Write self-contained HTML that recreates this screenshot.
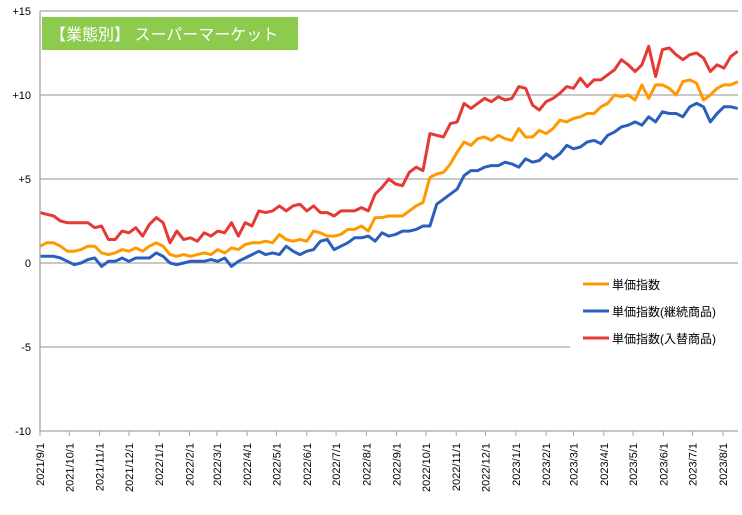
<!DOCTYPE html>
<html><head><meta charset="utf-8"><style>
body{margin:0;background:#fff;}
svg text{font-family:"Liberation Sans","Noto Sans CJK JP",sans-serif;}
</style></head><body>
<svg width="742" height="510" viewBox="0 0 742 510">
<g id="grid"></g><g id="series"></g><g id="axes"></g>
<g>
<rect x="570" y="268" width="168" height="84" fill="#fff"/>
<line x1="583" y1="284" x2="609" y2="284" stroke="#FF9900" stroke-width="3"/>
<text x="612" y="289" font-size="12" fill="#000">単価指数</text>
<line x1="583" y1="311" x2="609" y2="311" stroke="#2B5FBF" stroke-width="3"/>
<text x="612" y="316" font-size="12" fill="#000">単価指数(継続商品)</text>
<line x1="583" y1="338" x2="609" y2="338" stroke="#E53935" stroke-width="3"/>
<text x="612" y="343" font-size="12" fill="#000">単価指数(入替商品)</text>
</g>
<g>
<rect x="42" y="17" width="256" height="33" fill="#8CCB4E"/>
<text x="50" y="40" font-size="16" fill="#fff">【業態別】 スーパーマーケット</text>
</g>
</svg>
<script>
const yTicks=[15,10,5,0,-5,-10];
const yTickLabels=["+15","+10","+5","0","-5","-10"];
const monthLabels=["2021/9/1","2021/10/1","2021/11/1","2021/12/1","2022/1/1","2022/2/1","2022/3/1","2022/4/1","2022/5/1","2022/6/1","2022/7/1","2022/8/1","2022/9/1","2022/10/1","2022/11/1","2022/12/1","2023/1/1","2023/2/1","2023/3/1","2023/4/1","2023/5/1","2023/6/1","2023/7/1","2023/8/1"];
const startDate="2021-09-01";
const unitPrice=[1.0,1.2,1.2,1.0,0.7,0.7,0.8,1.0,1.0,0.6,0.5,0.6,0.8,0.7,0.9,0.7,1.0,1.2,1.0,0.5,0.4,0.5,0.4,0.5,0.6,0.5,0.8,0.6,0.9,0.8,1.1,1.2,1.2,1.3,1.2,1.7,1.4,1.3,1.4,1.3,1.9,1.8,1.6,1.6,1.7,2.0,2.0,2.2,1.9,2.7,2.7,2.8,2.8,2.8,3.1,3.4,3.6,5.1,5.3,5.4,5.9,6.6,7.2,7.0,7.4,7.5,7.3,7.6,7.4,7.3,8.0,7.5,7.5,7.9,7.7,8.0,8.5,8.4,8.6,8.7,8.9,8.9,9.3,9.5,10.0,9.9,10.0,9.7,10.6,9.8,10.6,10.6,10.4,10.0,10.8,10.9,10.7,9.7,10.0,10.4,10.6,10.6,10.8];
const continuing=[0.4,0.4,0.4,0.3,0.1,-0.1,0.0,0.2,0.3,-0.2,0.1,0.1,0.3,0.1,0.3,0.3,0.3,0.6,0.4,0.0,-0.1,0.0,0.1,0.1,0.1,0.2,0.1,0.3,-0.2,0.1,0.3,0.5,0.7,0.5,0.6,0.5,1.0,0.7,0.5,0.7,0.8,1.3,1.4,0.8,1.0,1.2,1.5,1.5,1.6,1.3,1.8,1.6,1.7,1.9,1.9,2.0,2.2,2.2,3.5,3.8,4.1,4.4,5.2,5.5,5.5,5.7,5.8,5.8,6.0,5.9,5.7,6.2,6.0,6.1,6.5,6.2,6.5,7.0,6.8,6.9,7.2,7.3,7.1,7.6,7.8,8.1,8.2,8.4,8.2,8.7,8.4,9.0,8.9,8.9,8.7,9.3,9.5,9.3,8.4,8.9,9.3,9.3,9.2];
const replaced=[3.0,2.9,2.8,2.5,2.4,2.4,2.4,2.4,2.1,2.2,1.4,1.4,1.9,1.8,2.1,1.6,2.3,2.7,2.4,1.2,1.9,1.4,1.5,1.3,1.8,1.6,1.9,1.8,2.4,1.6,2.4,2.2,3.1,3.0,3.1,3.4,3.1,3.4,3.5,3.1,3.4,3.0,3.0,2.8,3.1,3.1,3.1,3.3,3.1,4.1,4.5,5.0,4.7,4.6,5.4,5.7,5.5,7.7,7.6,7.5,8.3,8.4,9.5,9.2,9.5,9.8,9.6,9.9,9.7,9.8,10.5,10.4,9.4,9.1,9.6,9.8,10.1,10.5,10.4,11.0,10.5,10.9,10.9,11.2,11.5,12.1,11.8,11.4,11.8,12.9,11.1,12.7,12.8,12.4,12.1,12.4,12.5,12.2,11.4,11.8,11.6,12.3,12.6];

const NS="http://www.w3.org/2000/svg";
const X0=40,X1=738,Y0=431,Y1=11;
const day0=Date.parse(startDate);
const pxPerDay=683/699;
function xDay(d){return X0+d*pxPerDay;}
function xIdx(i){return xDay(i*7);}
function xDate(s){const p=s.split("/");return xDay((Date.UTC(+p[0],+p[1]-1,+p[2])-day0)/86400000);}
function y(v){return Y0-(v+10)*(Y0-Y1)/25;}
function mk(tag,attrs,parent){const e=document.createElementNS(NS,tag);for(const k in attrs)e.setAttribute(k,attrs[k]);parent.appendChild(e);return e;}
const grid=document.getElementById("grid"),axes=document.getElementById("axes"),ser=document.getElementById("series");
yTicks.forEach((v,i)=>{
 const l=mk("line",{x1:X0,x2:X1,y1:y(v),y2:y(v),stroke:"#a6a6a6","stroke-width":1.3},grid);
 
 
 const t=mk("text",{x:31,y:y(v)+4,"text-anchor":"end","font-size":11,fill:"#000"},axes);
 t.textContent=yTickLabels[i];
 
 
});
const ax=mk("line",{x1:X0,x2:X0,y1:Y1,y2:Y0,stroke:"#a6a6a6","stroke-width":1.3},axes);


monthLabels.forEach(s=>{
 const x=xDate(s);
 const tk=mk("line",{x1:x,x2:x,y1:Y0,y2:Y0+5,stroke:"#a6a6a6"},axes);
 
 
 const t=mk("text",{x:0,y:0,"text-anchor":"end","font-size":11,fill:"#000",transform:`translate(${x+4},443) rotate(-90)`},axes);
 t.textContent=s;
 
 
});
function line(data,color,name){
 const p=mk("polyline",{points:data.map((v,i)=>xIdx(i).toFixed(1)+","+y(v).toFixed(1)).join(" "),fill:"none",stroke:color,"stroke-width":3,"stroke-linejoin":"round"},ser);
 
 
}
line(replaced,"#E53935","series-replaced");
line(unitPrice,"#FF9900","series-unit-price");
line(continuing,"#2B5FBF","series-continuing");
</script>
</body></html>
